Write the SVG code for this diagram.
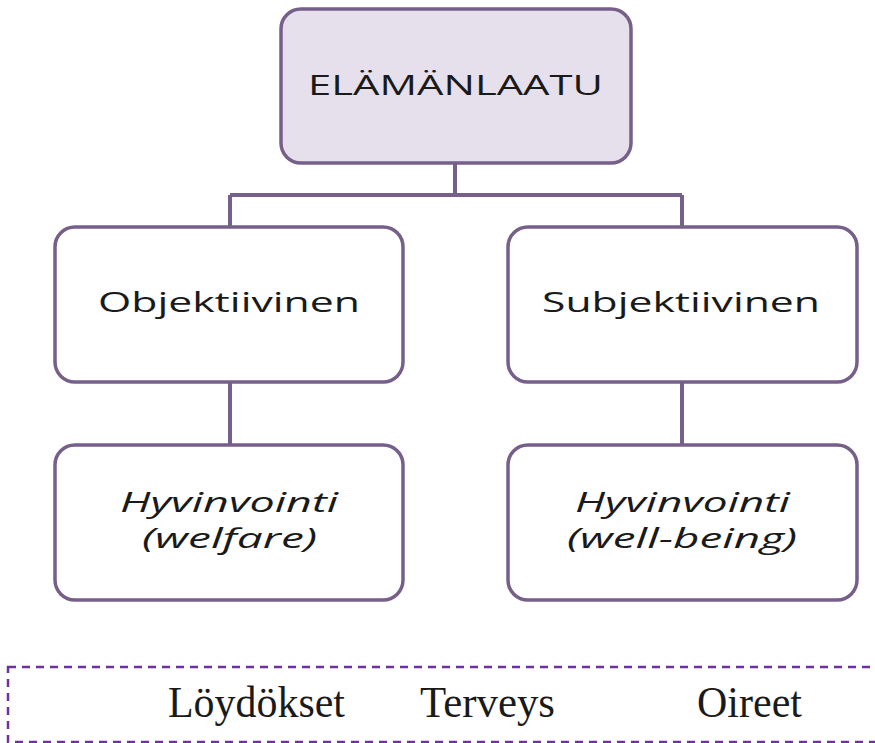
<svg xmlns="http://www.w3.org/2000/svg" width="875" height="743" viewBox="0 0 875 743">
<style>
.box{fill:#ffffff;stroke:#76608a;stroke-width:3.5}
.top{fill:#e6e0ec}
.lbl{font-family:"Open Sans","Liberation Sans",sans-serif;font-size:27px;fill:#1a1a1a;text-anchor:start}
.it{font-style:italic}
.conn{fill:none;stroke:#76608a;stroke-width:4}
.tm{font-family:"Liberation Serif","Times New Roman",serif;font-size:44px;fill:#1a1a1a}
</style>
<rect width="875" height="743" fill="#ffffff"/>
<g id="connectors">
<path class="conn" d="M455,163 V195 M230,195 H682 M230,195 V227 M682,195 V227"/>
<path class="conn" d="M230,382 V445"/>
<path class="conn" d="M682,382 V445"/>
</g>
<g id="elamanlaatu">
<rect class="box top" x="281" y="9" width="350" height="154" rx="20"/>
<text class="lbl" x="308" y="95" font-size="28" textLength="295" lengthAdjust="spacingAndGlyphs">ELÄMÄNLAATU</text>
</g>
<g id="objektiivinen">
<rect class="box" x="55" y="227" width="348" height="155" rx="20"/>
<text class="lbl" x="98" y="312" textLength="262" lengthAdjust="spacingAndGlyphs">Objektiivinen</text>
</g>
<g id="subjektiivinen">
<rect class="box" x="508" y="227" width="349" height="155" rx="20"/>
<text class="lbl" x="542" y="312" textLength="278" lengthAdjust="spacingAndGlyphs">Subjektiivinen</text>
</g>
<g id="welfare">
<rect class="box" x="55" y="445" width="348" height="155" rx="20"/>
<text class="lbl it" x="120" y="512" textLength="218" lengthAdjust="spacingAndGlyphs">Hyvinvointi</text>
<text class="lbl it" x="142" y="548" textLength="175" lengthAdjust="spacingAndGlyphs">(welfare)</text>
</g>
<g id="wellbeing">
<rect class="box" x="508" y="445" width="349" height="155" rx="20"/>
<text class="lbl it" x="575" y="512" textLength="215" lengthAdjust="spacingAndGlyphs">Hyvinvointi</text>
<text class="lbl it" x="567" y="548" textLength="230" lengthAdjust="spacingAndGlyphs">(well-being)</text>
</g>
<g id="footer">
<rect x="8" y="667" width="880" height="75" fill="none" stroke="#7030a0" stroke-width="2.5" stroke-dasharray="8,6"/>
<text class="tm" x="168" y="717" textLength="177" lengthAdjust="spacingAndGlyphs">Löydökset</text>
<text class="tm" x="420" y="717" textLength="135" lengthAdjust="spacingAndGlyphs">Terveys</text>
<text class="tm" x="697" y="717" textLength="105" lengthAdjust="spacingAndGlyphs">Oireet</text>
</g>
</svg>
